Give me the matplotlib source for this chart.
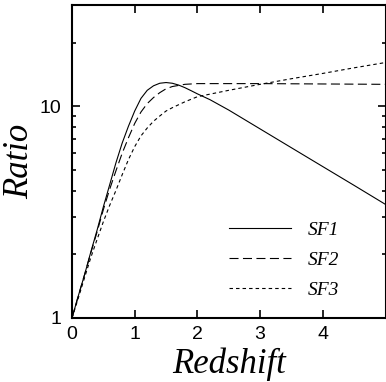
import matplotlib
matplotlib.use("Agg")
import matplotlib.pyplot as plt
from matplotlib.ticker import LogLocator, FixedLocator, NullFormatter

# values (redshift, ratio)
z_sf1 = [0, 0.1, 0.2, 0.3, 0.4, 0.5, 0.6, 0.7, 0.8, 0.9, 1.0, 1.1, 1.2, 1.3, 1.4,
         1.5, 1.6, 1.7, 1.8, 1.9, 2.0, 2.2, 2.5, 3.0, 3.5, 4.0, 4.5, 5.0]
r_sf1 = [1.0, 1.27, 1.6, 2.05, 2.6, 3.35, 4.25, 5.4, 6.7, 8.05, 9.5, 10.9, 11.9, 12.5, 12.85,
         12.95, 12.85, 12.6, 12.25, 11.85, 11.45, 10.75, 9.6, 7.82, 6.37, 5.19, 4.23, 3.44]

z_sf2 = [0, 0.1, 0.2, 0.3, 0.4, 0.5, 0.6, 0.7, 0.8, 0.9, 1.0, 1.1, 1.2, 1.3, 1.4,
         1.5, 1.6, 1.8, 2.0, 3.0, 4.0, 5.0]
r_sf2 = [1.0, 1.27, 1.6, 2.03, 2.55, 3.25, 4.05, 4.95, 6.0, 7.1, 8.3, 9.4, 10.3, 11.0, 11.6,
         12.1, 12.4, 12.7, 12.8, 12.8, 12.75, 12.7]

z_sf3 = [0, 0.1, 0.2, 0.3, 0.4, 0.5, 0.6, 0.7, 0.8, 0.9, 1.0, 1.1, 1.2, 1.3, 1.4,
         1.5, 1.6, 1.8, 2.0, 2.5, 3.0, 3.5, 4.0, 4.5, 5.0]
r_sf3 = [1.0, 1.24, 1.55, 1.93, 2.35, 2.85, 3.4, 4.0, 4.75, 5.6, 6.45, 7.25, 7.9, 8.5, 9.0,
         9.5, 9.85, 10.5, 11.1, 11.9, 12.7, 13.5, 14.3, 15.2, 16.1]

plt.rcParams['lines.scale_dashes'] = False
sans = ['Liberation Sans', 'DejaVu Sans']
serif = ['Liberation Serif', 'DejaVu Serif']

fig = plt.figure(figsize=(3.86, 3.82), dpi=100)
ax = fig.add_axes([72 / 386, 1 - 318 / 382, 313.5 / 386, 312.7 / 382])

ax.plot(z_sf1, r_sf1, color='black', lw=0.8, label='SF1')
ax.plot(z_sf2, r_sf2, color='black', lw=0.8, dashes=(6.5, 3.2), label='SF2')
ax.plot(z_sf3, r_sf3, color='black', lw=0.8, dashes=(2.5, 2.2), label='SF3')

ax.set_yscale('log')
ax.set_xlim(0, 5)
ax.set_ylim(1, 30)

ax.xaxis.set_major_locator(FixedLocator([0, 1, 2, 3, 4]))
ax.set_xticklabels(['0', '1', '2', '3', '4'], fontfamily=sans, fontsize=14)
ax.yaxis.set_major_locator(FixedLocator([1, 10]))
ax.set_yticklabels(['1', '10'], fontfamily=sans, fontsize=14)
ax.yaxis.set_minor_locator(LogLocator(base=10, subs=range(2, 10)))
ax.yaxis.set_minor_formatter(NullFormatter())

ax.tick_params(which='both', direction='in', top=True, right=True, width=1.2)
ax.tick_params(which='major', length=6)
ax.tick_params(which='minor', length=3)
ax.tick_params(axis='x', pad=6)
ax.tick_params(axis='y', pad=8)
for s in ax.spines.values():
    s.set_linewidth(1.5)

ax.set_xlabel('Redshift', fontfamily=serif, fontstyle='italic', fontsize=25, labelpad=3)
ax.set_ylabel('Ratio', fontfamily=serif, fontstyle='italic', fontsize=25, labelpad=2)

leg = ax.legend(loc='upper left', bbox_to_anchor=(0.50, 0.308), frameon=False,
                handlelength=3.2, handletextpad=0.85, labelspacing=0.63,
                borderaxespad=0, borderpad=0,
                prop={'family': serif, 'style': 'italic', 'size': 14})

fig.savefig('out.png', dpi=100)
